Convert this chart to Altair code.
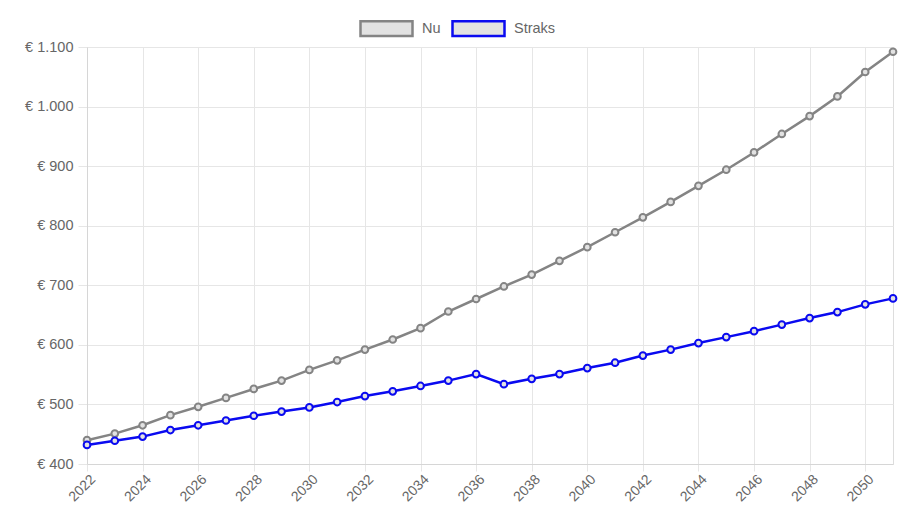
import altair as alt
import pandas as pd

years = list(range(2022, 2052))
nu = [440, 451, 465, 482, 496, 511, 526, 540, 558, 574, 592, 609, 628, 656, 677,
      698, 718, 741, 764, 789, 814, 840, 867, 894, 923, 954, 984, 1017, 1058, 1092]
straks = [432, 439, 446, 457, 465, 473, 481, 488, 495, 504, 514, 522, 531, 540, 551,
          534, 543, 551, 561, 570, 582, 592, 603, 613, 623, 634, 645, 655, 668, 678]
series_names = ["Nu", "Straks"]
series_colors = ["#848484", "#0a0af0"]
x_ticks = list(range(2022, 2051, 2))
y_ticks = [400, 500, 600, 700, 800, 900, 1000, 1100]

df = pd.DataFrame({
    "jaar": years * 2,
    "waarde": nu + straks,
    "reeks": ["Nu"] * len(years) + ["Straks"] * len(years),
})

FONT = "Liberation Sans"
GRID = "#e6e6e6"
FS = 14.5

color = alt.Color(
    "reeks:N",
    scale=alt.Scale(domain=series_names, range=series_colors),
    legend=alt.Legend(
        title=None,
        orient="none",
        legendX=272,
        legendY=-46,
        direction="horizontal",
        symbolType="M-1,-0.28H1V0.28H-1Z",
        symbolSize=2704,
        symbolStrokeWidth=2.5,
        symbolFillColor="#e2e2e2",
        symbolOpacity=1,
        labelFont=FONT,
        labelFontSize=FS,
        labelColor="#666666",
        labelOffset=8,
        columnPadding=6,
    ),
)

x = alt.X(
    "jaar:Q",
    scale=alt.Scale(domain=[2022, 2051], nice=False, zero=False),
    axis=alt.Axis(
        title=None,
        values=x_ticks,
        format="d",
        labelAngle=-45,
        labelAlign="right",
        labelBaseline="middle",
        labelFont=FONT,
        labelFontSize=14,
        labelColor="#666666",
        labelPadding=6,
        labelOffset=6,
        tickSize=7,
        tickColor=GRID,
        gridColor=GRID,
        domainColor="#d6d6d6",
        labelOverlap=False,
    ),
)

y = alt.Y(
    "waarde:Q",
    scale=alt.Scale(domain=[400, 1100], nice=False, zero=False),
    axis=alt.Axis(
        title=None,
        values=y_ticks,
        labelExpr="'€ ' + replace(format(datum.value, ','), ',', '.')",
        labelFont=FONT,
        labelFontSize=FS,
        labelColor="#666666",
        labelPadding=5,
        tickSize=9,
        tickColor=GRID,
        gridColor=GRID,
        domainColor="#d6d6d6",
    ),
)

lines = alt.Chart(df).mark_line(strokeWidth=2.5).encode(x=x, y=y, color=color)
points = alt.Chart(df).mark_point(
    filled=False, size=45, strokeWidth=2, fill="#e2e2e2", fillOpacity=1, opacity=1
).encode(x=x, y=y, stroke=alt.Stroke("reeks:N", scale=alt.Scale(domain=series_names, range=series_colors), legend=None))

chart = alt.layer(lines, points).properties(
    width=806,
    height=417,
    autosize=alt.AutoSizeParams(type="none"),
    padding={"left": 79, "top": 39, "right": 18, "bottom": 43},
).configure_view(stroke=None).configure(background="white")

chart.save("out.html", embed_options={"renderer": "svg", "actions": False})
